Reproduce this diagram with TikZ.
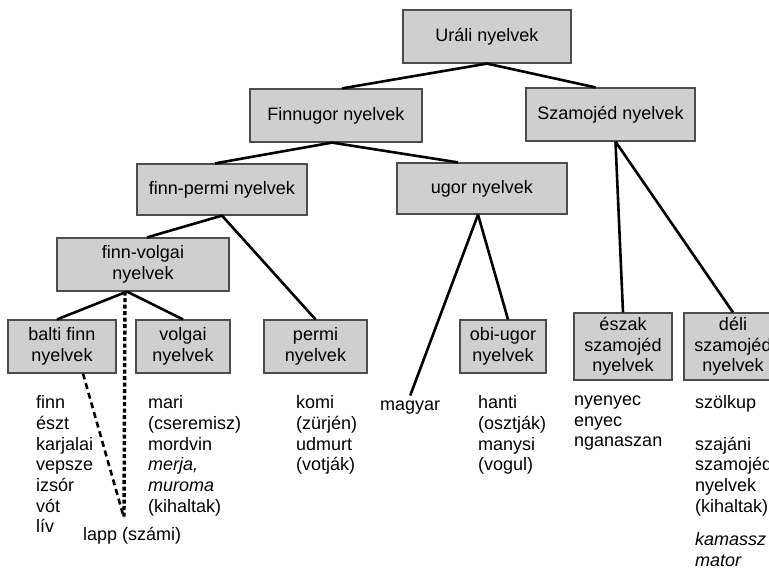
\documentclass[tikz,border=0pt]{standalone}
\usepackage{fontspec}
\setmainfont{Liberation Sans}
\begin{document}
\begin{tikzpicture}[x=1pt,y=-1pt,
	lang/.style={rectangle, draw=black!70, line width=1.2pt, fill=black!19, align=center,
	minimum height=53pt, inner sep=2pt, font=\fontsize{18}{20.5}\selectfont},
	leaf/.style={anchor=north west, inner sep=0pt, align=left,
	font=\fontsize{18}{20.7}\selectfont, execute at begin node=\strut},
	branch/.style={line width=2.6pt}]
		
		\useasboundingbox (0,0) rectangle (769,574);
		\clip (0,0) rectangle (769,574);
		
		%Boxes
		\node (urali) at (487,36.5) [lang, minimum width=168pt] {Uráli nyelvek};
		\node (finnugor) at (336,115.5) [lang, minimum width=172pt] {Finnugor nyelvek};
		\node (szamojed) at (610.5,114.5) [lang, minimum width=169pt] {Szamojéd nyelvek};
		\node (finnpermi) at (222,189.5) [lang, minimum width=170pt, minimum height=51pt] {finn-permi nyelvek};
		\node (ugor) at (482,188.5) [lang, minimum width=170pt, minimum height=51pt] {ugor nyelvek};
		\node (finnvolgai) at (143,264.5) [lang, minimum width=172pt] {finn-volgai\\nyelvek};
		\node (balti) at (62,346.5) [lang, minimum width=108pt] {balti finn\\nyelvek};
		\node (volgai) at (183,346.5) [lang, minimum width=94pt] {volgai\\nyelvek};
		\node (permi) at (315.5,346.5) [lang, minimum width=103pt] {permi\\nyelvek};
		\node (obiugor) at (503,346.5) [lang, minimum width=86pt] {obi-ugor\\nyelvek};
		\node (eszak) at (623,346.5) [lang, minimum width=98pt, minimum height=67pt] {észak\\szamojéd\\nyelvek};
		\node (deli) at (733,346.5) [lang, minimum width=98pt, minimum height=67pt] {déli\\szamojéd\\nyelvek};
		
		%Languages
		\node (baltilist) at (36,395.5) [leaf] {finn\\észt\\karjalai\\vepsze\\izsór\\vót\\lív};
		\node (lapp) at (83,526) [leaf] {lapp (számi)};
		\node (volgailist) at (148,395.5) [leaf] {mari\\(cseremisz)\\mordvin\\\textit{merja,}\\\textit{muroma}\\(kihaltak)};
		\node (permilist) at (296,395.5) [leaf] {komi\\(zürjén)\\udmurt\\(votják)};
		\node (magyar) at (380,395.5) [leaf] {magyar};
		\node (obilist) at (478,395.5) [leaf] {hanti\\(osztják)\\manysi\\(vogul)};
		\node (eszaklist) at (574,395.5) [leaf] {nyenyec\\enyec\\nganaszan};
		\node (delilist) at (695,395.5) [leaf] {szölkup\\\mbox{}\\szajáni\\szamojéd\\nyelvek\\(kihaltak)};
		\node (kihalt) at (695,532.5) [leaf] {\textit{kamassz}\\\textit{mator}};
		
		%Lines
		\draw[branch] (urali.south) -- ([xshift=6pt]finnugor.north);
		\draw[branch] (urali.south) -- ([xshift=-15pt]szamojed.north);
		\draw[branch] ([xshift=-4pt]finnugor.south) -- ([xshift=-7pt]finnpermi.north);
		\draw[branch] ([xshift=-4pt]finnugor.south) -- ([xshift=-24pt]ugor.north);
		\draw[branch] (finnpermi.south) -- ([xshift=4pt]finnvolgai.north);
		\draw[branch] (finnpermi.south) -- (permi.north);
		\draw[branch] ([xshift=-4pt]ugor.south) -- (magyar.north);
		\draw[branch] ([xshift=-4pt]ugor.south) -- ([xshift=5pt]obiugor.north);
		\draw[branch] ([xshift=5pt]szamojed.south) -- (eszak.north);
		\draw[branch] ([xshift=5pt]szamojed.south) -- (deli.north);
		\draw[branch] ([xshift=-16pt]finnvolgai.south) -- ([xshift=-5pt]balti.north);
		\draw[branch] ([xshift=-16pt]finnvolgai.south) -- (volgai.north);
		
		%Lapp
		\coordinate (lapptop) at (124,518);
		\draw[line width=3.4pt, dash pattern=on 4pt off 2.5pt] ([xshift=-18pt]finnvolgai.south) -- (lapptop);
		\draw[line width=2.6pt, dash pattern=on 6pt off 4pt] ([xshift=21pt]balti.south) -- (lapptop);
		
\end{tikzpicture}
\end{document}
